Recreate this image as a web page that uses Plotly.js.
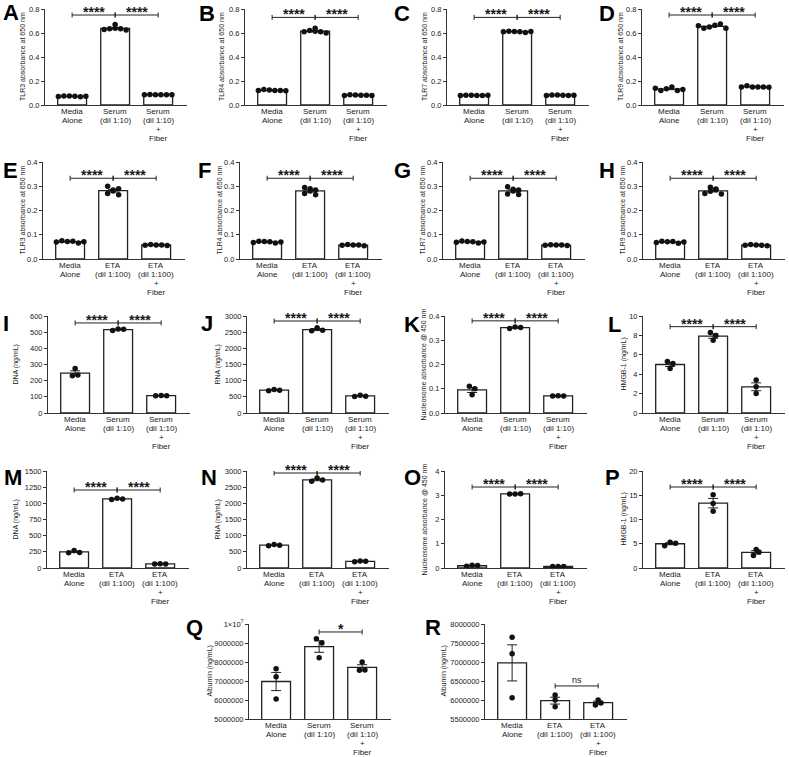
<!DOCTYPE html>
<html>
<head>
<meta charset="utf-8">
<script src="https://cdn.plot.ly/plotly-3.0.1.min.js"></script>
<style>body{margin:0;background:#fff}</style>
</head>
<body>
<div id="fig" style="width:789px;height:757px"></div>
<script>
// x categories, one entry per text line
var serumGroups = [['Media', 'Alone'], ['Serum', '(dil 1:10)'], ['Serum', '(dil 1:10)', '+', 'Fiber']];
var etaGroups = [['Media', 'Alone'], ['ETA', '(dil 1:100)'], ['ETA', '(dil 1:100)', '+', 'Fiber']];

// replicates per group: [media alone, sample, sample + fiber]
var tlr3Serum = [[0.070, 0.075, 0.075, 0.072, 0.068, 0.072], [0.630, 0.635, 0.670, 0.640, 0.635, 0.625], [0.085, 0.087, 0.086, 0.086, 0.085, 0.086]];
var tlr4Serum = [[0.120, 0.130, 0.125, 0.120, 0.120, 0.118], [0.610, 0.620, 0.615, 0.610, 0.640, 0.600], [0.080, 0.085, 0.083, 0.082, 0.082, 0.080]];
var tlr7Serum = [[0.080, 0.082, 0.081, 0.080, 0.080, 0.081], [0.610, 0.615, 0.612, 0.610, 0.605, 0.613], [0.080, 0.084, 0.083, 0.082, 0.080, 0.082]];
var tlr9Serum = [[0.140, 0.120, 0.135, 0.150, 0.120, 0.130], [0.660, 0.640, 0.650, 0.665, 0.675, 0.640], [0.150, 0.160, 0.150, 0.150, 0.150, 0.148]];

var tlr3Eta = [[0.070, 0.075, 0.072, 0.073, 0.066, 0.071], [0.270, 0.300, 0.285, 0.280, 0.290, 0.265], [0.057, 0.060, 0.058, 0.058, 0.056]];
var tlr4Eta = [[0.068, 0.073, 0.072, 0.071, 0.066, 0.070], [0.270, 0.295, 0.290, 0.280, 0.285, 0.265], [0.057, 0.060, 0.058, 0.058, 0.055]];
var tlr7Eta = [[0.069, 0.074, 0.072, 0.071, 0.066, 0.070], [0.268, 0.298, 0.288, 0.280, 0.285, 0.266], [0.057, 0.059, 0.058, 0.058, 0.056]];
var tlr9Eta = [[0.068, 0.073, 0.071, 0.072, 0.065, 0.070], [0.270, 0.296, 0.289, 0.279, 0.286, 0.268], [0.057, 0.060, 0.058, 0.057, 0.055]];

var dnaSerum = [[230, 275, 235], [510, 520, 518], [107, 108, 107]];
var rnaSerum = [[690, 730, 700], [2540, 2640, 2560], [510, 550, 520]];
var nucSerum = [[0.110, 0.100, 0.075], [0.348, 0.355, 0.353], [0.070, 0.071, 0.070]];
var hmgbSerum = [[5.3, 4.6, 5.1], [8.3, 7.5, 8.0], [3.4, 2.0, 2.7]];

var dnaEta = [[235, 270, 240], [1060, 1080, 1068], [62, 64, 63]];
var rnaEta = [[690, 725, 700], [2680, 2780, 2720], [190, 215, 205]];
var nucEta = [[0.07, 0.11, 0.10], [3.05, 3.05, 3.06], [0.060, 0.065, 0.060]];
var hmgbEta = [[4.6, 5.3, 5.1], [15.1, 13.3, 11.7], [3.8, 2.6, 3.3]];

var albSerum = [[7650000, 7220000, 6050000], [9220000, 9000000, 8220000], [8000000, 7560000, 7580000]];
var albEta = [[7650000, 7220000, 6060000], [6130000, 6000000, 5820000], [6000000, 5870000, 5920000]];

var absTitle = ' absorbance at 650 nm';
var stars = [[0, 1, '****'], [1, 2, '****']];

var panels = [
  {id: 'A', pts: tlr3Serum, groups: serumGroups, title: 'TLR3' + absTitle, yr: [0, 0.8], dtick: 0.2, fmt: '.1f', sig: stars, by: 0.75},
  {id: 'B', pts: tlr4Serum, groups: serumGroups, title: 'TLR4' + absTitle, yr: [0, 0.8], dtick: 0.2, fmt: '.1f', sig: stars, by: 0.73},
  {id: 'C', pts: tlr7Serum, groups: serumGroups, title: 'TLR7' + absTitle, yr: [0, 0.8], dtick: 0.2, fmt: '.1f', sig: stars, by: 0.73},
  {id: 'D', pts: tlr9Serum, groups: serumGroups, title: 'TLR9' + absTitle, yr: [0, 0.8], dtick: 0.2, fmt: '.1f', sig: stars, by: 0.75},
  {id: 'E', pts: tlr3Eta, groups: etaGroups, title: 'TLR3' + absTitle, yr: [0, 0.4], dtick: 0.1, fmt: '.1f', sig: stars, by: 0.333},
  {id: 'F', pts: tlr4Eta, groups: etaGroups, title: 'TLR4' + absTitle, yr: [0, 0.4], dtick: 0.1, fmt: '.1f', sig: stars, by: 0.333},
  {id: 'G', pts: tlr7Eta, groups: etaGroups, title: 'TLR7' + absTitle, yr: [0, 0.4], dtick: 0.1, fmt: '.1f', sig: stars, by: 0.333},
  {id: 'H', pts: tlr9Eta, groups: etaGroups, title: 'TLR9' + absTitle, yr: [0, 0.4], dtick: 0.1, fmt: '.1f', sig: stars, by: 0.333},
  {id: 'I', pts: dnaSerum, groups: serumGroups, title: 'DNA (ng/mL)', yr: [0, 600], dtick: 100, fmt: 'd', sig: stars, by: 557},
  {id: 'J', pts: rnaSerum, groups: serumGroups, title: 'RNA (ng/mL)', yr: [0, 3000], dtick: 500, fmt: 'd', sig: stars, by: 2845},
  {id: 'K', pts: nucSerum, groups: serumGroups, title: 'Nucleosome absorbance @ 450 nm', yr: [0, 0.4], dtick: 0.1, fmt: '.1f', sig: stars, by: 0.38},
  {id: 'L', pts: hmgbSerum, groups: serumGroups, title: 'HMGB-1 (ng/mL)', yr: [0, 10], dtick: 2, fmt: 'd', sig: stars, by: 8.9},
  {id: 'M', pts: dnaEta, groups: etaGroups, title: 'DNA (ng/mL)', yr: [0, 1500], dtick: 250, fmt: 'd', sig: stars, by: 1206},
  {id: 'N', pts: rnaEta, groups: etaGroups, title: 'RNA (ng/mL)', yr: [0, 3000], dtick: 500, fmt: 'd', sig: stars, by: 2938},
  {id: 'O', pts: nucEta, groups: etaGroups, title: 'Nucleosome absorbance @ 450 nm', yr: [0, 4], dtick: 1, fmt: 'd', sig: stars, by: 3.34},
  {id: 'P', pts: hmgbEta, groups: etaGroups, title: 'HMGB-1 (ng/mL)', yr: [0, 20], dtick: 5, fmt: 'd', sig: stars, by: 16.7},
  {id: 'Q', pts: albSerum, groups: serumGroups, title: 'Albumin (ng/mL)', yr: [5000000, 10000000], dtick: 1000000, fmt: 'd', sig: [[1, 2, '*']], by: 9580000,
   tickvals: [5000000, 6000000, 7000000, 8000000, 9000000, 10000000],
   ticktext: ['5000000', '6000000', '7000000', '8000000', '9000000', '1×10<sup>7</sup>']},
  {id: 'R', pts: albEta, groups: etaGroups, title: 'Albumin (ng/mL)', yr: [5500000, 8000000], dtick: 500000, fmt: 'd', sig: [[1, 2, 'ns']], by: 6370000}
];

// plot boxes in px: [y-axis x, plot top, plot bottom, y-title offset from axis]
var boxes = {
  A: [45, 9, 105, -22], B: [245, 9, 105, -23], C: [447, 9, 105, -22], D: [642, 9, 105, -21],
  E: [43, 162, 259, -21], F: [240, 162, 259, -21], G: [443, 162, 259, -21], H: [643, 162, 259, -21],
  I: [48, 316, 413, -33], J: [247, 316, 413, -30], K: [445, 316, 413, -22], L: [643, 316, 413, -20],
  M: [47, 471, 568, -32], N: [247, 471, 568, -30], O: [445, 471, 568, -21], P: [643, 471, 568, -20],
  Q: [249, 624, 719, -40], R: [485, 624, 719, -42]
};
// panel letters, px [left, cap top]
var letters = {
  A: [1, 3], B: [197, 4], C: [392, 4], D: [597, 4],
  E: [1, 161], F: [196, 161], G: [392, 161], H: [597, 161],
  I: [1, 314], J: [199, 314], K: [402, 315], L: [606, 315],
  M: [2, 468], N: [199, 468], O: [402, 468], P: [603, 468],
  Q: [184, 618], R: [423, 618]
};

var W = 789, H = 757, PW = 142;
var XR = [-0.63, 2.67];
var FONT = 'Liberation Sans, Arial, sans-serif';
var INK = '#1a1a1a';

function mean(a) { return a.reduce(function (s, v) { return s + v; }, 0) / a.length; }
function sem(a) {
  var m = mean(a);
  var ss = a.reduce(function (s, v) { return s + (v - m) * (v - m); }, 0);
  return Math.sqrt(ss / (a.length - 1)) / Math.sqrt(a.length);
}

// spread overlapping dots sideways: rows of near-equal values, centred on the bar
function swarm(vals, pxPerY, d) {
  var idx = vals.map(function (v, i) { return i; }).sort(function (a, b) { return vals[a] - vals[b]; });
  var offs = new Array(vals.length), row = [];
  function flush() {
    row.sort(function (a, b) { return a - b; });
    row.forEach(function (k, j) { offs[k] = (j - (row.length - 1) / 2) * d; });
    row = [];
  }
  idx.forEach(function (k) {
    if (row.length && (vals[k] - vals[row[0]]) * pxPerY >= 4.5) flush();
    row.push(k);
  });
  flush();
  return offs;
}

var data = [], shapes = [], annotations = [];
var layout = {
  width: W, height: H,
  margin: {l: 0, r: 0, t: 0, b: 0},
  paper_bgcolor: '#fff', plot_bgcolor: 'rgba(0,0,0,0)',
  showlegend: false,
  font: {family: FONT, color: INK, size: 8}
};

panels.forEach(function (p, i) {
  var sfx = i ? String(i + 1) : '';
  var xref = 'x' + sfx, yref = 'y' + sfx;
  var b = boxes[p.id];
  var ph = b[2] - b[1];
  var pxPerX = PW / (XR[1] - XR[0]);
  var pxPerY = ph / (p.yr[1] - p.yr[0]);

  layout['xaxis' + sfx] = {
    domain: [b[0] / W, (b[0] + PW) / W], anchor: yref, range: XR,
    showticklabels: false, ticks: '',
    showline: true, linecolor: '#333', linewidth: 1,
    showgrid: false, zeroline: false, fixedrange: true, automargin: false
  };
  var ya = {
    domain: [1 - b[2] / H, 1 - b[1] / H], anchor: xref, range: p.yr,
    ticks: 'outside', ticklen: 3, tickwidth: 1, tickcolor: '#333',
    tickfont: {size: 7.5, color: INK, family: FONT},
    showline: true, linecolor: '#333', linewidth: 1,
    showgrid: false, zeroline: false, fixedrange: true, automargin: false
  };
  if (p.tickvals) {
    ya.tickmode = 'array'; ya.tickvals = p.tickvals; ya.ticktext = p.ticktext;
  } else {
    ya.tickmode = 'linear'; ya.tick0 = p.yr[0]; ya.dtick = p.dtick; ya.tickformat = p.fmt;
  }
  layout['yaxis' + sfx] = ya;

  // y title, rotated
  annotations.push({
    xref: 'paper', yref: 'paper', x: (b[0] + b[3]) / W, y: 1 - (b[1] + b[2]) / 2 / H,
    xanchor: 'center', yanchor: 'middle', textangle: -90, showarrow: false,
    text: p.title, font: {family: FONT, size: 7, color: INK}
  });

  // category labels, one line each for tighter leading
  p.groups.forEach(function (lines, gi) {
    lines.forEach(function (t, li) {
      annotations.push({
        xref: xref, yref: yref, x: gi, y: p.yr[0], text: t,
        showarrow: false, xanchor: 'center', yanchor: 'middle',
        yshift: -(6.5 + 9 * li),
        font: {family: FONT, size: 8, color: INK}
      });
    });
  });

  data.push({
    type: 'bar', x: [0, 1, 2], y: p.pts.map(mean),
    xaxis: xref, yaxis: yref, width: 0.67,
    marker: {color: '#fff', line: {color: '#222', width: 1.3}},
    error_y: {type: 'data', array: p.pts.map(sem), visible: true, color: '#222', thickness: 1, width: 5},
    hoverinfo: 'skip'
  });

  var dx = [], dy = [];
  p.pts.forEach(function (g, gi) {
    var offs = swarm(g, pxPerY, 5.5);
    g.forEach(function (v, k) { dx.push(gi + offs[k] / pxPerX); dy.push(v); });
  });
  data.push({
    type: 'scatter', mode: 'markers', x: dx, y: dy,
    xaxis: xref, yaxis: yref,
    marker: {color: '#111', size: 5.5},
    cliponaxis: false, hoverinfo: 'skip'
  });

  // significance brackets
  var half = 2.5 / pxPerY;
  var ln = {color: '#222', width: 1};
  p.sig.forEach(function (s) {
    shapes.push({type: 'line', xref: xref, yref: yref, x0: s[0], x1: s[1], y0: p.by, y1: p.by, line: ln});
    [s[0], s[1]].forEach(function (xv) {
      shapes.push({type: 'line', xref: xref, yref: yref, x0: xv, x1: xv, y0: p.by - half, y1: p.by + half, line: ln});
    });
    var isNs = s[2] === 'ns';
    annotations.push({
      xref: xref, yref: yref, x: (s[0] + s[1]) / 2, y: p.by,
      text: isNs ? 'ns' : '<b>' + s[2] + '</b>',
      showarrow: false, xanchor: 'center', yanchor: 'middle',
      yshift: isNs ? 6 : 3,
      font: {family: FONT, size: isNs ? 9 : 14, color: INK}
    });
  });

  var lp = letters[p.id];
  annotations.push({
    xref: 'paper', yref: 'paper', x: lp[0] / W, y: 1 - (lp[1] - 5) / H,
    xanchor: 'left', yanchor: 'top', showarrow: false,
    text: '<b>' + p.id + '</b>',
    font: {family: FONT, size: 22, color: '#000'}
  });
});

layout.shapes = shapes;
layout.annotations = annotations;

Plotly.newPlot('fig', data, layout, {staticPlot: true, displayModeBar: false});
</script>
</body>
</html>
